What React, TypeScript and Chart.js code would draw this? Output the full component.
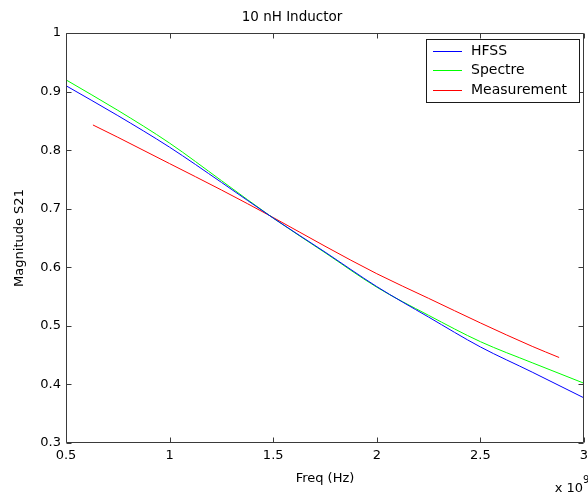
import React, { useEffect, useRef } from 'react';
import { Chart, registerables } from 'chart.js';

Chart.register(...registerables);

// ---- data ----
const FREQ = [0.5, 0.75, 1, 1.25, 1.5, 1.75, 2, 2.25, 2.5, 2.75, 3];
const HFSS = [0.91, 0.859, 0.805, 0.745, 0.684, 0.626, 0.567, 0.515, 0.464, 0.421, 0.377];
const SPECTRE = [0.92, 0.868, 0.812, 0.748, 0.684, 0.625, 0.566, 0.518, 0.473, 0.437, 0.402];
const MEAS_FREQ = [0.63, 0.75, 1, 1.25, 1.5, 1.75, 2, 2.25, 2.5, 2.75, 2.88];
const MEAS = [0.843, 0.822, 0.777, 0.732, 0.685, 0.636, 0.589, 0.547, 0.505, 0.465, 0.446];
const X_TICKS = [0.5, 1, 1.5, 2, 2.5, 3];
const Y_TICKS = [0.3, 0.4, 0.5, 0.6, 0.7, 0.8, 0.9, 1];
const SERIES_NAMES = ['HFSS', 'Spectre', 'Measurement'];
const SERIES_COLORS = ['#0000ff', '#00ff00', '#ff0000'];
const TITLE = '10 nH Inductor';
const X_LABEL = 'Freq (Hz)';
const Y_LABEL = 'Magnitude S21';
const X_EXP = '9';

const FONT = 'DejaVu Sans';

const fmt = (v: any) => String(+Number(v).toFixed(3));

const matlabPlugin = {
  id: 'matlabFrame',
  afterDraw(chart: any) {
    const { ctx, chartArea: a, scales } = chart;
    const xs = scales.x;
    const ys = scales.y;
    const L = Math.round(a.left) + 0.5;
    const R = Math.round(a.right) - 0.5;
    const T = Math.round(a.top) + 0.5;
    const B = Math.round(a.bottom) - 0.5;
    ctx.save();
    ctx.strokeStyle = '#3a3a3a';
    ctx.lineWidth = 1;
    ctx.beginPath();
    ctx.rect(L, T, R - L, B - T);
    const tl = 5;
    X_TICKS.forEach((v) => {
      const px = Math.round(xs.getPixelForValue(v)) + 0.5;
      ctx.moveTo(px, B);
      ctx.lineTo(px, B - tl);
      ctx.moveTo(px, T);
      ctx.lineTo(px, T + tl);
    });
    Y_TICKS.forEach((v) => {
      const py = Math.round(ys.getPixelForValue(v)) + 0.5;
      ctx.moveTo(L, py);
      ctx.lineTo(L + tl, py);
      ctx.moveTo(R, py);
      ctx.lineTo(R - tl, py);
    });
    ctx.stroke();

    // exponent label
    ctx.fillStyle = '#000';
    ctx.textBaseline = 'alphabetic';
    ctx.textAlign = 'right';
    ctx.font = `13px '${FONT}'`;
    ctx.fillText('x 10', 583, 492);
    ctx.textAlign = 'left';
    ctx.font = `10px '${FONT}'`;
    ctx.fillText(X_EXP, 583, 483);

    // legend
    const bx = 426.5, by = 39.5, bw = 153, bh = 63;
    ctx.fillStyle = '#fff';
    ctx.fillRect(bx, by, bw, bh);
    ctx.strokeStyle = '#1a1a1a';
    ctx.strokeRect(bx, by, bw, bh);
    ctx.font = `14px '${FONT}'`;
    ctx.textBaseline = 'middle';
    ctx.textAlign = 'left';
    chart.data.datasets.forEach((ds: any, i: number) => {
      const yy = 50.5 + i * 19.5;
      ctx.strokeStyle = ds.borderColor;
      ctx.beginPath();
      ctx.moveTo(433, Math.round(yy) + 0.5);
      ctx.lineTo(462, Math.round(yy) + 0.5);
      ctx.stroke();
      ctx.fillStyle = '#000';
      ctx.fillText(ds.label, 471, yy + 0.5);
    });
    ctx.restore();
  },
};

export default function App() {
  const ref = useRef<HTMLCanvasElement | null>(null);
  useEffect(() => {
    if (!ref.current) return;
    Chart.defaults.font.family = FONT;
    Chart.defaults.font.size = 13;
    Chart.defaults.color = '#000';
    const mk = (xsArr: number[], ysArr: number[]) => xsArr.map((x, i) => ({ x, y: ysArr[i] }));
    const series = [mk(FREQ, HFSS), mk(FREQ, SPECTRE), mk(MEAS_FREQ, MEAS)];
    const chart = new Chart(ref.current, {
      type: 'line',
      data: {
        datasets: series.map((d, i) => ({
          label: SERIES_NAMES[i],
          data: d,
          borderColor: SERIES_COLORS[i],
          backgroundColor: SERIES_COLORS[i],
          borderWidth: 1,
          pointRadius: 0,
          fill: false,
          cubicInterpolationMode: 'monotone' as const,
        })),
      },
      options: {
        responsive: false,
        animation: false,
        layout: { padding: { left: 0, right: 4, top: 0, bottom: 0 } },
        plugins: {
          legend: { display: false },
          tooltip: { enabled: false },
          title: {
            display: true,
            text: TITLE,
            color: '#000',
            font: { family: FONT, size: 13.5, weight: 'normal' },
            padding: { top: 9, bottom: 7.8 },
          },
        },
        scales: {
          x: {
            type: 'linear',
            min: 0.5,
            max: 3,
            grid: { display: false, drawTicks: false },
            border: { display: false },
            afterBuildTicks: (s: any) => {
              s.ticks = X_TICKS.map((v) => ({ value: v }));
            },
            afterFit: (s: any) => {
              s.height = 51;
              s.paddingLeft = 0;
              s.paddingRight = 0;
            },
            ticks: { padding: 5, color: '#000', maxRotation: 0, autoSkip: false, callback: fmt },
            title: {
              display: true,
              text: X_LABEL,
              color: '#000',
              font: { family: FONT, size: 13 },
              padding: { top: 0, bottom: 8 },
            },
          },
          y: {
            type: 'linear',
            min: 0.3,
            max: 1,
            grid: { display: false, drawTicks: false },
            border: { display: false },
            afterBuildTicks: (s: any) => {
              s.ticks = Y_TICKS.map((v) => ({ value: v }));
            },
            afterFit: (s: any) => {
              s.width = 66;
              s.paddingTop = 0;
              s.paddingBottom = 0;
            },
            ticks: { padding: 5, color: '#000', autoSkip: false, callback: fmt },
            title: {
              display: true,
              text: Y_LABEL,
              color: '#000',
              font: { family: FONT, size: 13 },
              padding: { top: 12, bottom: 0 },
            },
          },
        },
      },
      plugins: [matlabPlugin],
    });
    return () => chart.destroy();
  }, []);
  return (
    <div style={{ position: 'fixed', left: 0, top: 0, width: 588, height: 494, background: '#fff' }}>
      <canvas ref={ref} width={588} height={494} style={{ display: 'block' }} />
    </div>
  );
}
